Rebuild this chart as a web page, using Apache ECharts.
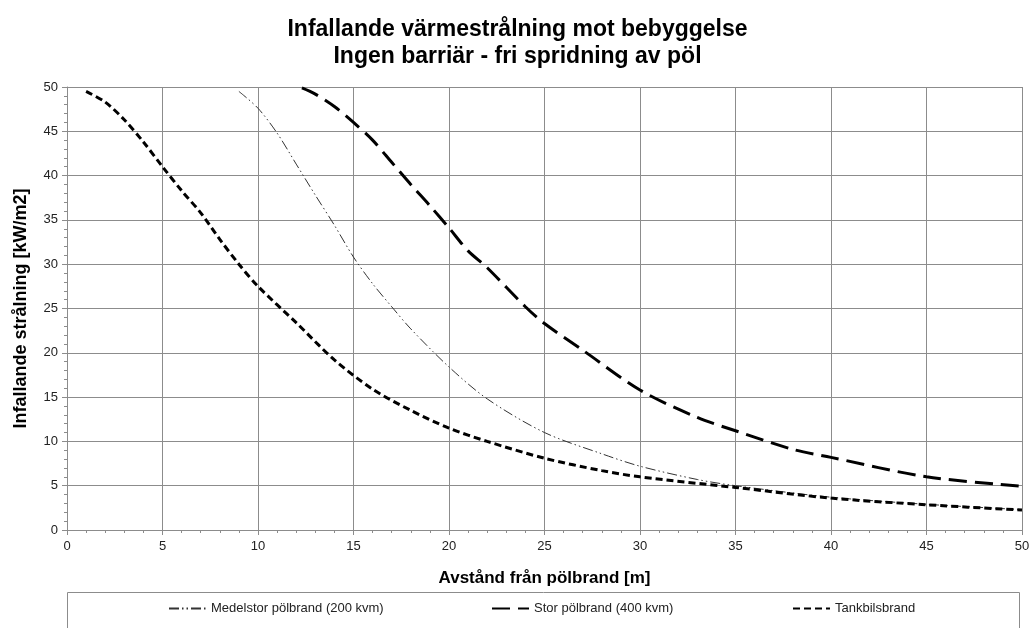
<!DOCTYPE html>
<html><head><meta charset="utf-8">
<script src="https://cdn.jsdelivr.net/npm/echarts@6/dist/echarts.min.js"></script>
<style>html,body{margin:0;padding:0;background:#fff}#c{width:1035px;height:628px}</style>
</head><body><div id="c"></div>
<script>
var titleLines = ['Infallande värmestrålning mot bebyggelse', 'Ingen barriär - fri spridning av pöl'];
var xName = 'Avstånd från pölbrand [m]';
var yName = 'Infallande strålning [kW/m2]';
var seriesNames = ['Medelstor pölbrand (200 kvm)', 'Stor pölbrand (400 kvm)', 'Tankbilsbrand'];

var medX = [9, 10, 11, 12, 13, 14, 15, 16, 17, 18, 20, 22, 25, 28, 30, 33, 35, 40, 45, 50];
var medY = [49.5, 47.6, 44.8, 41.3, 37.8, 34.4, 30.8, 27.8, 25.2, 22.7, 18.4, 14.8, 11.0, 8.6, 7.2, 5.7, 5.0, 3.7, 2.9, 2.3];

var storX = [12.3, 13, 14, 15, 16, 17, 18, 19, 20, 21, 22, 24, 25, 27, 30, 33, 35, 38, 40, 45, 50];
var storY = [49.9, 49.2, 47.8, 46.0, 44.0, 41.5, 39.0, 36.6, 34.1, 31.5, 29.6, 25.2, 23.3, 20.3, 15.8, 12.7, 11.2, 9.1, 8.2, 6.0, 4.95];

var tankX = [1, 2, 3, 4, 5, 6, 7, 8, 9, 10, 12, 14, 16, 18, 20, 22, 25, 28, 30, 35, 40, 45, 50];
var tankY = [49.5, 48.3, 46.3, 43.8, 41.0, 38.3, 35.8, 32.8, 30.0, 27.5, 23.4, 19.2, 15.9, 13.5, 11.5, 10.0, 8.1, 6.7, 6.0, 4.8, 3.6, 2.85, 2.25];

function pairs(xs, ys) { return xs.map(function (x, i) { return [x, ys[i]]; }); }

var chart = echarts.init(document.getElementById('c'));
var gridColor = '#8c8c8c';
var font = 'Liberation Sans, Arial, sans-serif';
var legendLefts = [168, 491, 792];
chart.setOption({
  animation: false,
  backgroundColor: '#fff',
  title: {
    text: titleLines.join('\n'),
    left: 'center', top: 16, padding: [0, 0, 0, 12],
    textStyle: { fontFamily: font, fontWeight: 'bold', fontSize: 23, color: '#000', lineHeight: 27 }
  },
  grid: { left: 67, right: 13, top: 87, bottom: 98 },
  xAxis: {
    type: 'value', min: 0, max: 50, interval: 5,
    name: xName, nameLocation: 'middle', nameGap: 40,
    nameTextStyle: { fontFamily: font, fontWeight: 'bold', fontSize: 17, color: '#000' },
    axisLine: { lineStyle: { color: gridColor } },
    axisTick: { show: true, length: 5, lineStyle: { color: gridColor } },
    minorTick: { show: true, splitNumber: 5, length: 3, lineStyle: { color: gridColor } },
    axisLabel: { fontFamily: font, fontSize: 13, color: '#222', margin: 10 },
    splitLine: { show: true, lineStyle: { color: gridColor, width: 1 } }
  },
  yAxis: {
    type: 'value', min: 0, max: 50, interval: 5,
    name: yName, nameLocation: 'middle', nameGap: 37,
    nameTextStyle: { fontFamily: font, fontWeight: 'bold', fontSize: 18, color: '#000' },
    axisLine: { show: true, lineStyle: { color: gridColor } },
    axisTick: { show: true, length: 5, lineStyle: { color: gridColor } },
    minorTick: { show: true, splitNumber: 5, length: 3, lineStyle: { color: gridColor } },
    axisLabel: { fontFamily: font, fontSize: 13, color: '#222', margin: 9 },
    splitLine: { show: true, lineStyle: { color: gridColor, width: 1 } }
  },
  legend: seriesNames.map(function (n, i) {
    return {
      data: [n], left: legendLefts[i], top: 602, padding: 0,
      itemWidth: 37, itemHeight: 10,
      itemStyle: { opacity: 0 },
      textStyle: { fontFamily: font, fontSize: 13, color: '#222' }
    };
  }),
  graphic: [{
    type: 'rect', shape: { x: 67.5, y: 592.5, width: 952, height: 60 },
    style: { fill: 'none', stroke: '#8c8c8c', lineWidth: 1 }, silent: true
  }],
  series: [
    {
      name: seriesNames[0], type: 'line', smooth: 0.3, symbol: 'none',
      data: pairs(medX, medY),
      lineStyle: { color: '#333', width: 1, type: [10, 3, 1.5, 3, 1.5, 3] },
      itemStyle: { color: '#333' }
    },
    {
      name: seriesNames[1], type: 'line', smooth: 0.3, symbol: 'none',
      data: pairs(storX, storY),
      lineStyle: { color: '#000', width: 3, type: [18, 8] },
      itemStyle: { color: '#000' }
    },
    {
      name: seriesNames[2], type: 'line', smooth: 0.3, symbol: 'none',
      data: pairs(tankX, tankY),
      lineStyle: { color: '#000', width: 3, type: [7, 4] },
      itemStyle: { color: '#000' }
    }
  ]
});
</script></body></html>
